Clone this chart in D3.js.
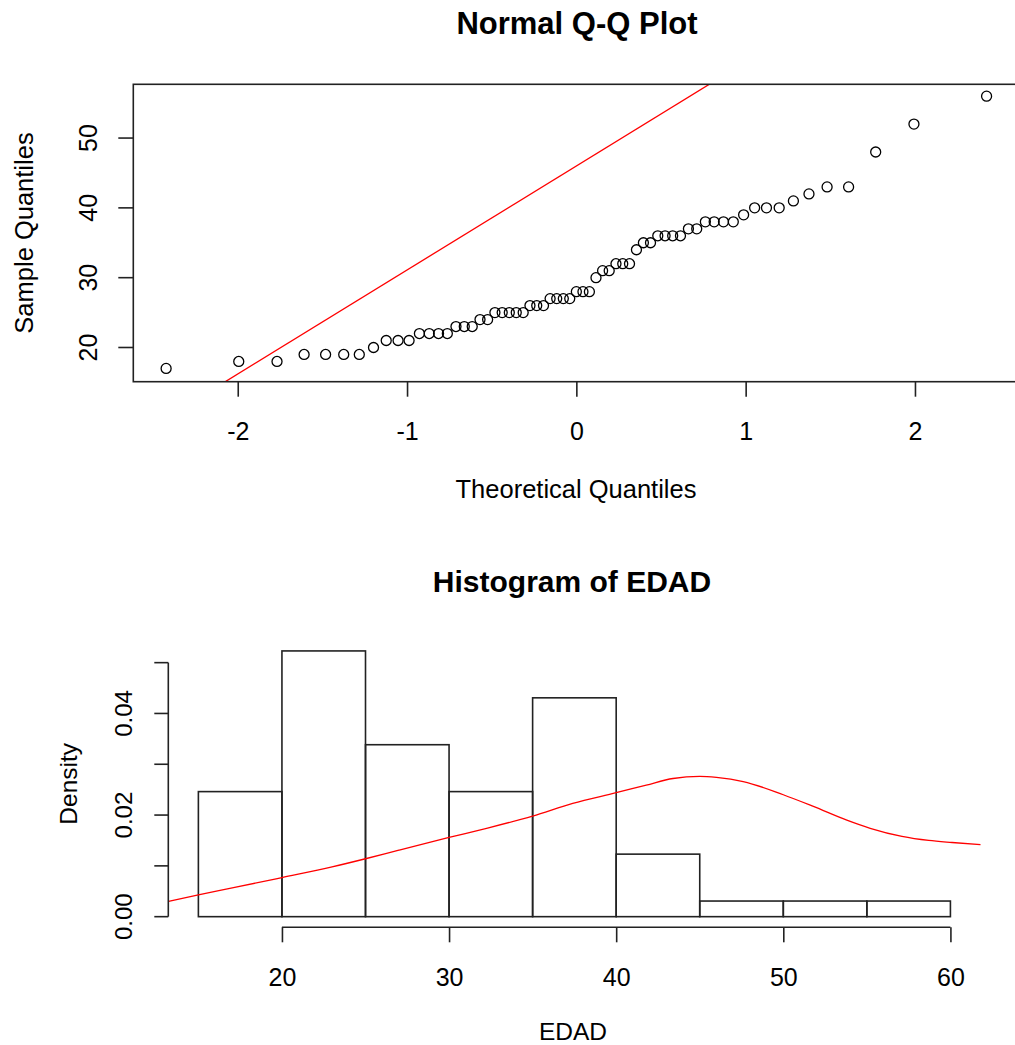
<!DOCTYPE html>
<html lang="en">

<head>
  <meta charset="UTF-8">
  <script src="https://d3js.org/d3.v7.min.js"></script>
  <title>EDAD - Q-Q plot and histogram</title>
  <style>
    body { margin: 0; background: #fff; }
    text { font-family: "Liberation Sans", Arial, sans-serif; fill: #000; }
  </style>
</head>

<body>
  <div id="chart"></div>

  <script>
    // sorted sample (EDAD), 65 values
    const edad = [17, 18, 18, 19, 19, 19, 19, 20, 21, 21, 21, 22, 22, 22, 22, 23, 23, 23, 24, 24,
      25, 25, 25, 25, 25, 26, 26, 26, 27, 27, 27, 27, 28, 28, 28, 30, 31, 31, 32, 32, 32, 34,
      35, 35, 36, 36, 36, 36, 37, 37, 38, 38, 38, 38, 39, 40, 40, 40, 41, 42, 43, 43, 48, 52, 56];
    // theoretical normal quantiles for 65 points
    const theoretical = [-2.423, -1.994, -1.768, -1.608, -1.481, -1.374, -1.282, -1.198, -1.123, -1.053,
      -0.988, -0.927, -0.869, -0.814, -0.762, -0.711, -0.662, -0.615, -0.569, -0.524,
      -0.481, -0.438, -0.396, -0.355, -0.314, -0.274, -0.234, -0.194, -0.155, -0.116,
      -0.077, -0.039, 0, 0.039, 0.077, 0.116, 0.155, 0.194, 0.234, 0.274,
      0.314, 0.355, 0.396, 0.438, 0.481, 0.524, 0.569, 0.615, 0.662, 0.711,
      0.762, 0.814, 0.869, 0.927, 0.988, 1.053, 1.123, 1.198, 1.282, 1.374,
      1.481, 1.608, 1.768, 1.994, 2.423];
    const qq_ticks_x = [-2, -1, 0, 1, 2];
    const qq_ticks_y = [20, 30, 40, 50];
    const qq_line = { intercept: 46, slope: 14.9 };

    // histogram of EDAD
    const bin_edges = [15, 20, 25, 30, 35, 40, 45, 50, 55, 60];
    const bin_counts = [8, 17, 11, 8, 14, 4, 1, 1, 1];
    const hist_ticks_x = [20, 30, 40, 50, 60];
    const hist_ticks_y = [0, 0.01, 0.02, 0.03, 0.04, 0.05];
    const hist_labels_y = [0, 0.02, 0.04];

    // red curve drawn over the histogram
    const curve_x = [13.2, 15.0, 17.1, 20.0, 23.0, 25.0, 27.0, 30.0, 32.0, 35.0, 37.4, 40.0,
      41.8, 43.4, 45.0, 46.0, 47.6, 50.0, 51.8, 53.8, 55.2, 57.1, 58.7, 60.1, 61.8];
    const curve_y = [0.0030, 0.0043, 0.0057, 0.0077, 0.0098, 0.0114, 0.0131, 0.0156, 0.0172, 0.0198, 0.0223, 0.0244,
      0.0259, 0.0272, 0.0276, 0.0274, 0.0266, 0.0240, 0.0217, 0.0190, 0.0174, 0.0158, 0.0150, 0.0146, 0.0142];

    const width = 1015;
    const height = 1045;
    const axis_color = "#222";

    const svg = d3.select("#chart")
      .append("svg")
      .attr("width", width)
      .attr("height", height);

    // ---------- Normal Q-Q plot ----------
    const qq = { left: 133.3, right: 1019.4, top: 84.3, bottom: 381.7 };

    const x_ext = d3.extent(theoretical);
    const x_pad = (x_ext[1] - x_ext[0]) * 0.04;
    const qx = d3.scaleLinear()
      .domain([x_ext[0] - x_pad, x_ext[1] + x_pad])
      .range([qq.left, qq.right]);
    const qy = d3.scaleLinear()
      .domain([15.1, 57.7])
      .range([qq.bottom, qq.top]);

    svg.append("clipPath")
      .attr("id", "qq-clip")
      .append("rect")
      .attr("x", qq.left)
      .attr("y", qq.top)
      .attr("width", qq.right - qq.left)
      .attr("height", qq.bottom - qq.top);

    const pts = theoretical.map((t, i) => [t, edad[i]]);
    svg.append("g")
      .selectAll("circle")
      .data(pts)
      .enter()
      .append("circle")
      .attr("cx", d => qx(d[0]))
      .attr("cy", d => qy(d[1]))
      .attr("r", 5)
      .attr("fill", "none")
      .attr("stroke", "#000")
      .attr("stroke-width", 1.3);

    svg.append("line")
      .attr("clip-path", "url(#qq-clip)")
      .attr("stroke", "#ff0000")
      .attr("stroke-width", 1.3)
      .attr("x1", qx(qx.domain()[0]))
      .attr("y1", qy(qq_line.intercept + qq_line.slope * qx.domain()[0]))
      .attr("x2", qx(qx.domain()[1]))
      .attr("y2", qy(qq_line.intercept + qq_line.slope * qx.domain()[1]));

    svg.append("rect")
      .attr("x", qq.left)
      .attr("y", qq.top)
      .attr("width", qq.right - qq.left)
      .attr("height", qq.bottom - qq.top)
      .attr("fill", "none")
      .attr("stroke", axis_color)
      .attr("stroke-width", 1.6);

    svg.append("g")
      .attr("transform", "translate(0," + qq.bottom + ")")
      .call(d3.axisBottom(qx).tickValues(qq_ticks_x).tickSize(15).tickPadding(26).tickFormat(d => String(d)))
      .call(g => g.select(".domain").remove())
      .call(g => g.selectAll("line").attr("stroke", axis_color).attr("stroke-width", 1.6))
      .call(g => g.selectAll("text").attr("font-size", 25).attr("font-family", null).attr("fill", "#000"));

    svg.append("g")
      .selectAll("line")
      .data(qq_ticks_y)
      .enter()
      .append("line")
      .attr("stroke", axis_color)
      .attr("stroke-width", 1.6)
      .attr("x1", qq.left - 15)
      .attr("x2", qq.left)
      .attr("y1", d => qy(d))
      .attr("y2", d => qy(d));

    svg.append("g")
      .selectAll("text")
      .data(qq_ticks_y)
      .enter()
      .append("text")
      .attr("text-anchor", "middle")
      .attr("font-size", 25)
      .attr("transform", d => "translate(96.7," + qy(d) + ") rotate(-90)")
      .text(d => d);

    svg.append("text")
      .attr("text-anchor", "middle")
      .attr("font-size", 31)
      .attr("font-weight", "bold")
      .attr("x", 577)
      .attr("y", 33.5)
      .text("Normal Q-Q Plot");

    svg.append("text")
      .attr("text-anchor", "middle")
      .attr("font-size", 25.5)
      .attr("x", 576)
      .attr("y", 498.3)
      .text("Theoretical Quantiles");

    svg.append("text")
      .attr("text-anchor", "middle")
      .attr("font-size", 25.5)
      .attr("transform", "translate(33," + (qq.top + qq.bottom) / 2 + ") rotate(-90)")
      .text("Sample Quantiles");

    // ---------- Histogram of EDAD ----------
    const hist = { left: 168.3, right: 980.5, top: 640.3, bottom: 927.3 };
    const n = d3.sum(bin_counts);
    const bins = bin_counts.map((c, i) => ({
      x0: bin_edges[i],
      x1: bin_edges[i + 1],
      density: c / (n * (bin_edges[i + 1] - bin_edges[i]))
    }));

    const hx_pad = (bin_edges[bin_edges.length - 1] - bin_edges[0]) * 0.04;
    const hx = d3.scaleLinear()
      .domain([bin_edges[0] - hx_pad, bin_edges[bin_edges.length - 1] + hx_pad])
      .range([hist.left, hist.right]);
    const max_density = d3.max(bins, d => d.density);
    const hy = d3.scaleLinear()
      .domain([-max_density * 0.04, max_density * 1.04])
      .range([hist.bottom, hist.top]);

    svg.append("g")
      .selectAll("rect")
      .data(bins)
      .enter()
      .append("rect")
      .attr("x", d => hx(d.x0))
      .attr("y", d => hy(d.density))
      .attr("width", d => hx(d.x1) - hx(d.x0))
      .attr("height", d => hy(0) - hy(d.density))
      .attr("fill", "none")
      .attr("stroke", axis_color)
      .attr("stroke-width", 1.6);

    const curve_line = d3.line()
      .x(d => hx(d[0]))
      .y(d => hy(d[1]))
      .curve(d3.curveMonotoneX);

    svg.append("path")
      .datum(curve_x.map((v, i) => [v, curve_y[i]]))
      .attr("d", curve_line)
      .attr("fill", "none")
      .attr("stroke", "#ff0000")
      .attr("stroke-width", 1.3);

    svg.append("g")
      .attr("transform", "translate(0," + hist.bottom + ")")
      .call(d3.axisBottom(hx).tickValues(hist_ticks_x).tickSize(15).tickSizeOuter(0).tickPadding(26).tickFormat(d => String(d)))
      .call(g => g.select(".domain")
        .attr("d", "M" + hx(hist_ticks_x[0]) + ",0H" + hx(hist_ticks_x[hist_ticks_x.length - 1])))
      .call(g => g.selectAll("line, path").attr("stroke", axis_color).attr("stroke-width", 1.6))
      .call(g => g.selectAll("text").attr("font-size", 25).attr("font-family", null).attr("fill", "#000"));

    svg.append("line")
      .attr("stroke", axis_color)
      .attr("stroke-width", 1.6)
      .attr("x1", hist.left)
      .attr("x2", hist.left)
      .attr("y1", hy(hist_ticks_y[0]))
      .attr("y2", hy(hist_ticks_y[hist_ticks_y.length - 1]));

    svg.append("g")
      .selectAll("line")
      .data(hist_ticks_y)
      .enter()
      .append("line")
      .attr("stroke", axis_color)
      .attr("stroke-width", 1.6)
      .attr("x1", hist.left - 14)
      .attr("x2", hist.left)
      .attr("y1", d => hy(d))
      .attr("y2", d => hy(d));

    svg.append("g")
      .selectAll("text")
      .data(hist_labels_y)
      .enter()
      .append("text")
      .attr("text-anchor", "middle")
      .attr("font-size", 24)
      .attr("transform", d => "translate(131.7," + hy(d) + ") rotate(-90)")
      .text(d => d3.format(".2f")(d));

    svg.append("text")
      .attr("text-anchor", "middle")
      .attr("font-size", 30)
      .attr("font-weight", "bold")
      .attr("x", 572)
      .attr("y", 591.7)
      .text("Histogram of EDAD");

    svg.append("text")
      .attr("text-anchor", "middle")
      .attr("font-size", 24.5)
      .attr("x", 573)
      .attr("y", 1040)
      .text("EDAD");

    svg.append("text")
      .attr("text-anchor", "middle")
      .attr("font-size", 24.5)
      .attr("transform", "translate(77," + (hist.top + hist.bottom) / 2 + ") rotate(-90)")
      .text("Density");
  </script>
</body>

</html>
